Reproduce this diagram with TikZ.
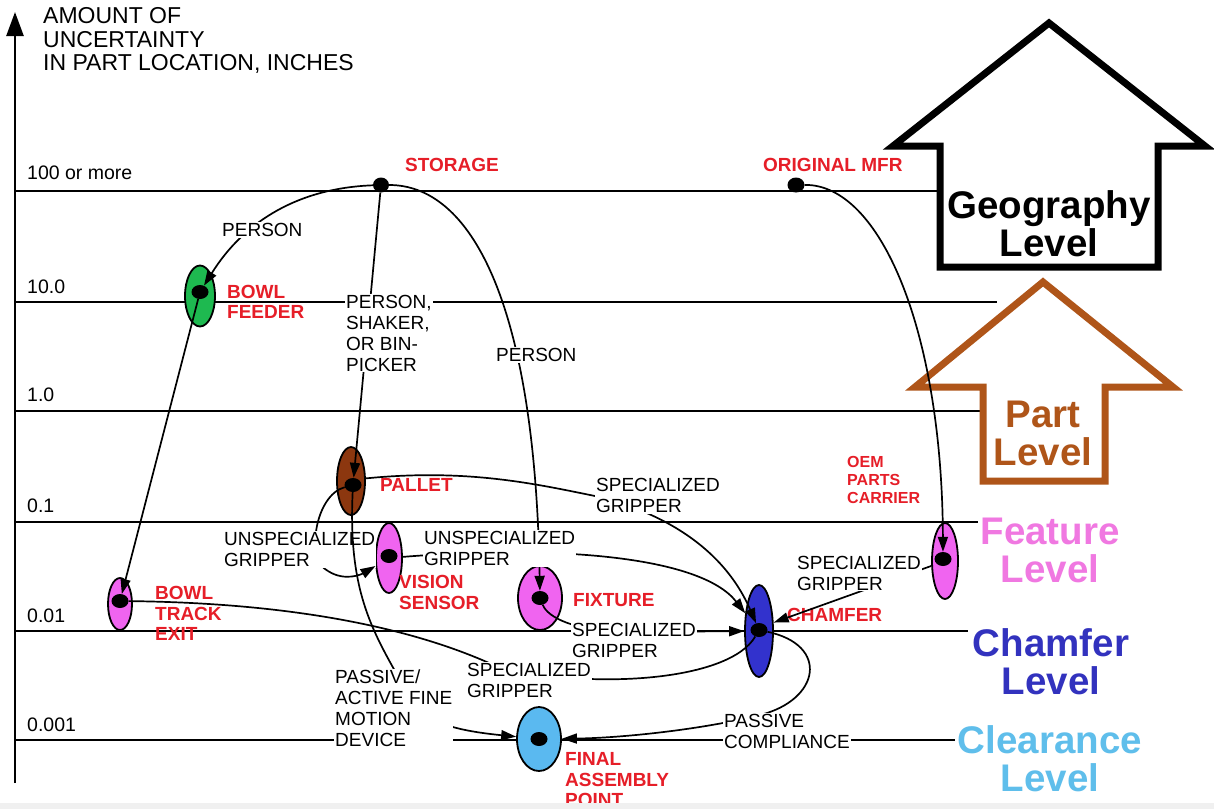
\documentclass[tikz,border=0pt]{standalone}
\usepackage{fontspec}
\setmainfont{Liberation Sans}
\usetikzlibrary{shapes.geometric,arrows.meta}

\definecolor{lblred}{RGB}{230,30,40}
\definecolor{feedgreen}{RGB}{30,185,80}
\definecolor{palletbrown}{RGB}{140,55,15}
\definecolor{locpink}{RGB}{240,100,240}
\definecolor{chamferfill}{RGB}{50,50,205}
\definecolor{finalfill}{RGB}{90,185,240}
\definecolor{partbrown}{RGB}{175,85,25}
\definecolor{featpink}{RGB}{240,120,225}
\definecolor{chamtext}{RGB}{50,50,190}
\definecolor{cleartext}{RGB}{95,190,235}

\begin{document}
\begin{tikzpicture}[x=1pt,y=-1pt,
  gridline/.style={line width=2pt},
  conn/.style={line width=1.7pt, -{Triangle[length=15pt,width=10pt]}},
  plainconn/.style={line width=1.7pt},
  loc/.style={ellipse, draw=black, line width=1.8pt, inner sep=0pt},
  hole/.style={ellipse, fill=black, inner sep=0pt, minimum width=17pt, minimum height=14pt},
  tag/.style={font=\fontsize{19}{21}\selectfont, align=left, inner sep=1pt, fill=white, anchor=west},
  redtag/.style={font=\fontsize{19}{20.5}\selectfont\bfseries, text=lblred, align=left, inner sep=0pt, anchor=west},
  ticklbl/.style={font=\fontsize{19.5}{20}\selectfont, inner sep=0pt, anchor=west},
  levellbl/.style={font=\fontsize{38.5}{38}\selectfont\bfseries, align=center, inner sep=0pt},
  bigarrow/.style={line width=7pt, miter limit=10}
]
\useasboundingbox (0,0) rectangle (1214,809);
\fill[white] (0,0) rectangle (1214,809);

% vertical axis
\coordinate (axisfoot) at (15,783);
\coordinate (axistop) at (15,12);
\draw[line width=2.5pt, -{Triangle[length=24pt,width=17pt]}] (axisfoot) -- (axistop);
\node[font=\fontsize{23}{23.5}\selectfont, align=left, inner sep=0pt, anchor=west] (axistitle) at (43,40.5)
  {AMOUNT OF\\UNCERTAINTY\\IN PART LOCATION, INCHES};

% uncertainty levels
\draw[gridline] (15,191) -- (940,191);
\draw[gridline] (15,302) -- (997,302);
\draw[gridline] (15,411) -- (988,411);
\draw[gridline] (15,522) -- (978,522);
\draw[gridline] (15,631) -- (968,631);
\draw[gridline] (15,740) -- (955,740);

\node[ticklbl] (t100) at (27,173) {100 or more};
\node[ticklbl] (t10) at (27,287) {10.0};
\node[ticklbl] (t1) at (27,395) {1.0};
\node[ticklbl] (t01) at (27,506) {0.1};
\node[ticklbl] (t001) at (27,616) {0.01};
\node[ticklbl] (t0001) at (27,725) {0.001};

% level arrows
\draw[bigarrow, fill=white] (940,267) -- (940,146) -- (893,146) -- (1049,23) -- (1205,146)
  -- (1158,146) -- (1158,267) -- cycle;
\draw[bigarrow, draw=partbrown, fill=white] (983,481) -- (983,387) -- (915,387) -- (1043,282)
  -- (1173,387) -- (1105,387) -- (1105,481) -- cycle;

\node[levellbl] (geolvl) at (1049,224) {Geography\\Level};
\node[levellbl, text=partbrown] (partlvl) at (1043,433) {Part\\Level};
\node[levellbl, text=featpink] (featlvl) at (1050,550) {Feature\\Level};
\node[levellbl, text=chamtext] (chamlvl) at (1051,662) {Chamfer\\Level};
\node[levellbl, text=cleartext] (clearlvl) at (1050,759) {Clearance\\Level};

% part locations
\node[hole, minimum width=16pt, minimum height=15pt] (storage) at (381,185) {};
\node[hole, minimum width=17pt, minimum height=15pt] (origmfr) at (796,185) {};
\node[loc, fill=feedgreen, minimum width=30pt, minimum height=61pt] (feeder) at (200,296) {};
\node[hole] (feederdot) at (200,292) {};
\node[loc, fill=palletbrown, minimum width=28pt, minimum height=68pt] (pallet) at (351,481) {};
\node[hole] (palletdot) at (353,485) {};
\node[loc, fill=locpink, minimum width=26pt, minimum height=70pt] (vision) at (389,558) {};
\node[hole] (visiondot) at (389,556) {};
\node[loc, fill=locpink, minimum width=44pt, minimum height=64pt] (fixture) at (540,598) {};
\node[hole] (fixturedot) at (540,598) {};
\node[loc, fill=locpink, minimum width=24pt, minimum height=52pt] (trackexit) at (120,604) {};
\node[hole] (trackexitdot) at (120,601) {};
\node[loc, fill=chamferfill, minimum width=28pt, minimum height=92pt] (chamfer) at (759,631) {};
\node[hole] (chamferdot) at (759,630) {};
\node[loc, fill=locpink, minimum width=26pt, minimum height=76pt] (oem) at (945,561) {};
\node[hole] (oemdot) at (943,559) {};
\node[loc, fill=finalfill, minimum width=44pt, minimum height=64pt] (final) at (539,739) {};
\node[hole] (finaldot) at (539,739) {};

% location names
\node[redtag] (lstorage) at (405,165) {STORAGE};
\node[redtag] (lorigmfr) at (763,165) {ORIGINAL MFR};
\node[redtag] (lfeeder) at (227,302) {BOWL\\FEEDER};
\node[redtag] (lpallet) at (380,485) {PALLET};
\node[redtag] (lvision) at (399,592.5) {VISION\\SENSOR};
\node[redtag] (lfixture) at (573,600) {FIXTURE};
\node[redtag] (ltrackexit) at (155,613.5) {BOWL\\TRACK\\EXIT};
\node[redtag] (lchamfer) at (787,615) {CHAMFER};
\node[redtag, font=\fontsize{16}{18}\selectfont\bfseries] (loem) at (847,480) {OEM\\PARTS\\CARRIER};
\node[redtag] (lfinal) at (565,780) {FINAL\\ASSEMBLY\\POINT};

% transfers between locations
\draw[conn] (storage) .. controls (300,188) and (245,220) .. (feederdot);
\draw[conn] (storage) -- (palletdot);
\draw[conn] (storage) .. controls (470,185) and (535,300) .. (fixturedot);
\draw[conn] (origmfr) .. controls (880,184) and (942,330) .. (oemdot);
\draw[conn] (feederdot) -- (trackexitdot);
\draw[plainconn] (trackexitdot) .. controls (300,603) and (420,630) .. (500,668)
  .. controls (600,690) and (730,680) .. (chamferdot);
\coordinate (visionbend) at (328,571);
\draw[plainconn] (palletdot) .. controls (315,495) and (305,560) .. (visionbend);
\draw[conn] (pallet.10) .. controls (470,468) and (540,485) .. (600,497)
  .. controls (650,510) and (720,540) .. (chamferdot);
\draw[conn] (vision) .. controls (550,545) and (700,555) .. (chamfer);
\draw[conn] (fixturedot) .. controls (548,618) and (575,630) .. (620,632) -- (chamfer);
\draw[conn] (oem) -- (chamfer.30);
\draw[conn] (chamferdot) .. controls (830,645) and (820,700) .. (760,715)
  .. controls (700,730) and (620,738) .. (final);

% transfer methods
\node[tag] (tperson1) at (221,230) {PERSON};
\node[tag] (tshaker) at (345,333) {PERSON,\\SHAKER,\\OR BIN-\\PICKER};
\node[tag] (tperson2) at (495,355) {PERSON};
\node[tag] (tspec1) at (595,495.5) {SPECIALIZED\\GRIPPER};
\node[tag] (tunspec1) at (223,549.5) {UNSPECIALIZED\\GRIPPER};
\node[tag] (tunspec2) at (423,548.5) {UNSPECIALIZED\\GRIPPER};
\node[tag] (tspec2) at (796,573) {SPECIALIZED\\GRIPPER};
\node[tag] (tspec3) at (571,640) {SPECIALIZED\\GRIPPER};
\node[tag] (tspec4) at (466,680) {SPECIALIZED\\GRIPPER};
\node[tag] (tcompl) at (723,731) {PASSIVE\\COMPLIANCE};

% end of the pallet-to-vision hand-off, below its note
\draw[conn] (visionbend) .. controls (345,582) and (362,574) .. (vision);

% fine motion path runs over the gripper note
\draw[conn] (palletdot) .. controls (348,590) and (372,630) .. (400,680)
  .. controls (410,720) and (450,730) .. (final);
\node[tag] (tpassive) at (334,708.5) {PASSIVE/\\ACTIVE FINE\\MOTION\\DEVICE};

% lower page edge
\fill[black!6] (0,803) rectangle (1214,809);
\end{tikzpicture}
\end{document}
